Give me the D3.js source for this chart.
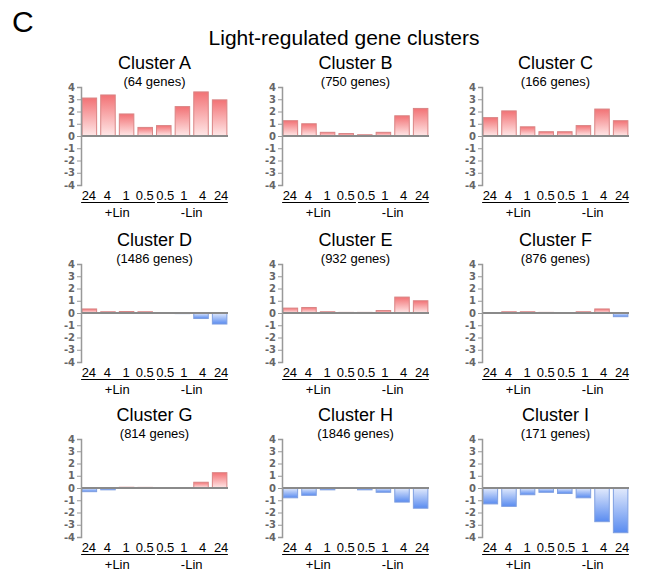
<!DOCTYPE html>
<html>
<head>
<meta charset="utf-8">
<script src="https://cdn.jsdelivr.net/npm/d3@7/dist/d3.min.js"></script>
<style>
    body { margin: 0; background: #fff; }
    svg { display: block; font-family: "Liberation Sans", Arial, sans-serif; }
</style>
</head>
<body>
<svg id="chart" width="647" height="574"></svg>
<script>
"use strict";

// time points (h) under each bar, grouped by treatment
const timeLabels = ["24", "4", "1", "0.5", "0.5", "1", "4", "24"];
const treatments = ["+Lin", "-Lin"];
const yTicks = [4, 3, 2, 1, 0, -1, -2, -3, -4];

const clusterNames = ["Cluster A", "Cluster B", "Cluster C", "Cluster D", "Cluster E",
    "Cluster F", "Cluster G", "Cluster H", "Cluster I"];
const geneCounts = [64, 750, 166, 1486, 932, 876, 814, 1846, 171];

const valuesA = [3.1, 3.35, 1.8, 0.7, 0.85, 2.4, 3.6, 2.95];
const valuesB = [1.25, 1.0, 0.3, 0.2, 0.1, 0.3, 1.65, 2.25];
const valuesC = [1.5, 2.05, 0.75, 0.35, 0.35, 0.85, 2.2, 1.25];
const valuesD = [0.33, 0.1, 0.12, 0.1, 0.0, -0.05, -0.45, -0.9];
const valuesE = [0.4, 0.45, 0.1, 0.05, 0.05, 0.2, 1.3, 1.0];
const valuesF = [0.0, 0.1, 0.1, 0.05, 0.0, 0.1, 0.33, -0.3];
const valuesG = [-0.3, -0.15, 0.06, 0.05, 0.0, 0.0, 0.47, 1.25];
const valuesH = [-0.8, -0.6, -0.15, -0.03, -0.15, -0.35, -1.15, -1.65];
const valuesI = [-1.3, -1.5, -0.55, -0.35, -0.45, -0.8, -2.75, -3.65];

const clusterValues = [valuesA, valuesB, valuesC, valuesD, valuesE,
    valuesF, valuesG, valuesH, valuesI];

(function () {
    window.addEventListener("load", init);

    // panel origins: left edge of plot (y axis) and top (value 4)
    const colX = [81, 282, 482];
    const rowY = [87, 264, 439];
    const plotW = 147;
    const plotH = 98;

    function init() {
        const svg = d3.select("#chart");
        addGradients(svg);

        svg.append("text")
            .attr("x", 12).attr("y", 32)
            .style("font-size", "30px")
            .text("C");

        svg.append("text")
            .attr("x", 344).attr("y", 45)
            .attr("text-anchor", "middle")
            .style("font-size", "21px")
            .text("Light-regulated gene clusters");

        clusterNames.forEach((name, i) => {
            const g = svg.append("g")
                .attr("transform", `translate(${colX[i % 3]},${rowY[Math.floor(i / 3)]})`);
            drawPanel(g, name, geneCounts[i], clusterValues[i]);
        });
    }

    function addGradients(svg) {
        const defs = svg.append("defs");
        const red = defs.append("linearGradient")
            .attr("id", "gradUp").attr("x1", 0).attr("y1", 0).attr("x2", 0).attr("y2", 1);
        red.append("stop").attr("offset", "0%").attr("stop-color", "#f27275");
        red.append("stop").attr("offset", "100%").attr("stop-color", "#ffe8e8");

        const blue = defs.append("linearGradient")
            .attr("id", "gradDown").attr("x1", 0).attr("y1", 0).attr("x2", 0).attr("y2", 1);
        blue.append("stop").attr("offset", "0%").attr("stop-color", "#e2eafc");
        blue.append("stop").attr("offset", "100%").attr("stop-color", "#5a8cf0");
    }

    function drawPanel(g, name, genes, values) {
        const x = d3.scaleBand()
            .domain(d3.range(values.length))
            .range([0, plotW])
            .paddingInner(0.22)
            .paddingOuter(0.06);

        const y = d3.scaleLinear()
            .domain([-4, 4])
            .range([plotH, 0]);

        // titles
        g.append("text")
            .attr("x", plotW / 2).attr("y", -18)
            .attr("text-anchor", "middle")
            .style("font-size", "18px")
            .text(name);
        g.append("text")
            .attr("x", plotW / 2).attr("y", -1)
            .attr("text-anchor", "middle")
            .style("font-size", "13px")
            .text(`(${genes} genes)`);

        // bars
        g.selectAll("rect.bar")
            .data(values)
            .enter()
            .append("rect")
            .attr("class", "bar")
            .attr("x", (d, i) => x(i))
            .attr("width", x.bandwidth())
            .attr("y", d => y(Math.max(0, d)))
            .attr("height", d => Math.abs(y(d) - y(0)))
            .style("fill", d => d >= 0 ? "url(#gradUp)" : "url(#gradDown)")
            .style("stroke", d => d >= 0 ? "#d98585" : "#7f9fe0")
            .style("stroke-width", 1);

        // zero line
        g.append("line")
            .attr("x1", 0).attr("x2", plotW)
            .attr("y1", y(0)).attr("y2", y(0))
            .style("stroke", "#8a8a8a")
            .style("stroke-width", 2);

        // y axis, plain hyphen for negatives as in the figure
        const axis = g.append("g")
            .call(d3.axisLeft(y).tickValues(yTicks).tickSize(4).tickPadding(2).tickFormat(d => String(d)));
        axis.select(".domain").style("stroke", "#999").style("stroke-width", 1.5);
        axis.selectAll(".tick line").style("stroke", "#999");
        axis.selectAll(".tick text")
            .style("font-family", "'DejaVu Sans', sans-serif")
            .style("font-weight", "bold")
            .style("font-size", "10px")
            .style("fill", "#666");

        // time point labels (second group nudged right a little, like the figure)
        const half = values.length / 2;
        g.selectAll("text.time")
            .data(timeLabels)
            .enter()
            .append("text")
            .attr("class", "time")
            .attr("x", (d, i) => x(i) + x.bandwidth() / 2 + (i < half ? -0.5 : 1.5))
            .attr("y", plotH + 15)
            .attr("text-anchor", "middle")
            .style("font-size", "13px")
            .text(d => d);

        // treatment groups with underline
        treatments.forEach((t, k) => {
            const x0 = x(k * half) - 1;
            const x1 = x(k * half + half - 1) + x.bandwidth() + 1;
            g.append("line")
                .attr("x1", x0 + (k === 1 ? 1.5 : 0)).attr("x2", x1 + (k === 0 ? 1.5 : 0))
                .attr("y1", plotH + 17.5).attr("y2", plotH + 17.5)
                .style("stroke", "#000")
                .style("stroke-width", 1);
            g.append("text")
                .attr("x", (x0 + x1) / 2)
                .attr("y", plotH + 32)
                .attr("text-anchor", "middle")
                .style("font-size", "13px")
                .text(t);
        });
    }
})();
</script>
</body>
</html>
